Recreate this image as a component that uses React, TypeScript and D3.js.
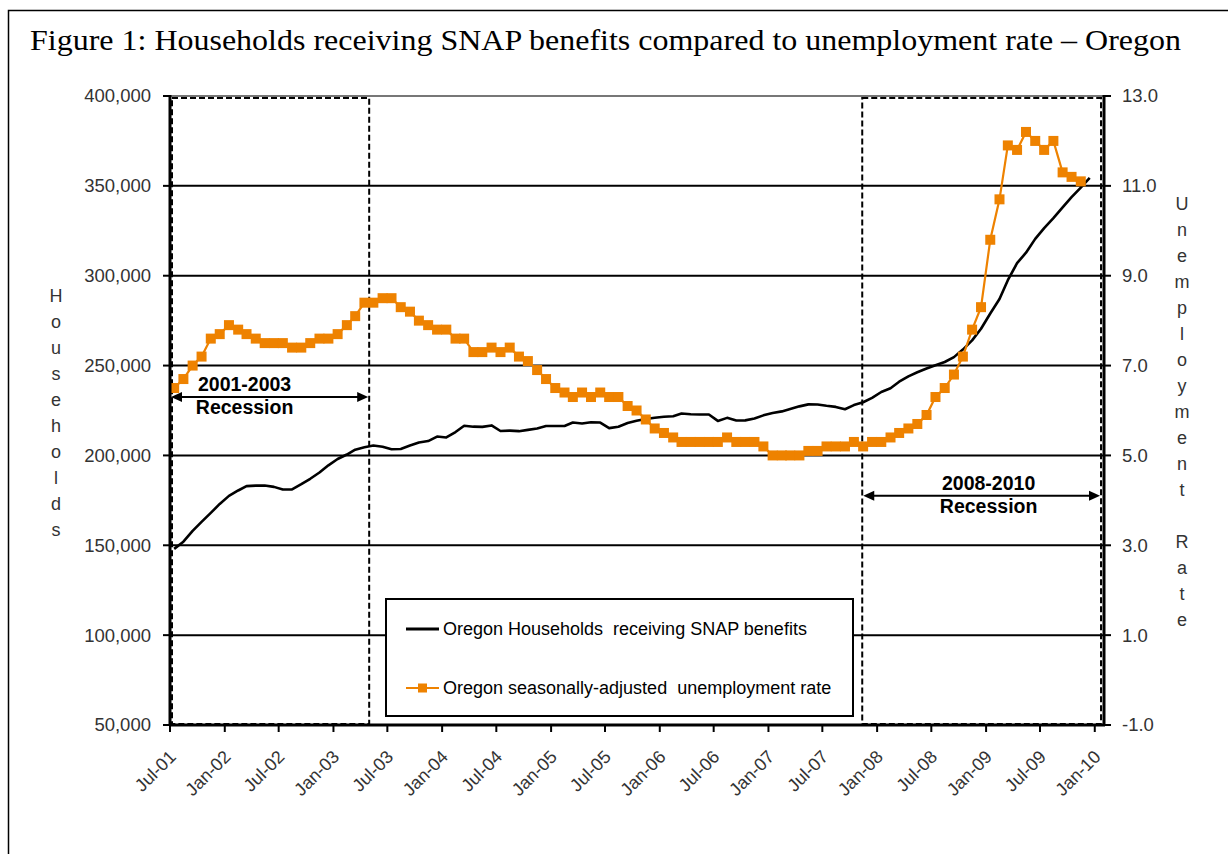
import React from 'react';
import * as d3 from 'd3';

// ---------- DATA ----------
const firstYear = 2001;
const firstMonth = 6; // July (0-based)

// Oregon households receiving SNAP benefits, monthly from Jul-01
const snapHouseholds = [
  148000, 152000, 158000, 163000, 168000, 173000, 177500, 180500, 182900, 183200,
  183300, 182500, 181000, 181100, 184000, 187000, 190500, 194500, 198000, 200500,
  203200, 204500, 205500, 204800, 203400, 203600, 205500, 207200, 208000, 210500,
  210000, 213000, 216500, 216000, 215900, 216700, 213600, 213800, 213500, 214200,
  215000, 216400, 216400, 216400, 218300, 217800, 218500, 218300, 215200, 216000,
  218000, 219300, 220300, 221000, 221500, 221800, 223300, 222900, 222800, 222800,
  219200, 220900, 219400, 219500, 220500, 222300, 223600, 224500, 225800, 227300,
  228400, 228300, 227600, 227000, 225700, 228000, 229600, 232000, 235300, 237400,
  241000, 244000, 246300, 248400, 250200, 252000, 254700, 258900, 264000, 270500,
  279000, 287000, 297500, 307000, 312800, 320500, 326500, 332000, 338000, 343700,
  349000, 354500,
];

// Oregon seasonally-adjusted unemployment rate, monthly from Jul-01
const unemploymentRate = [
  6.5, 6.7, 7.0, 7.2, 7.6, 7.7, 7.9, 7.8, 7.7, 7.6,
  7.5, 7.5, 7.5, 7.4, 7.4, 7.5, 7.6, 7.6, 7.7, 7.9,
  8.1, 8.4, 8.4, 8.5, 8.5, 8.3, 8.2, 8.0, 7.9, 7.8,
  7.8, 7.6, 7.6, 7.3, 7.3, 7.4, 7.3, 7.4, 7.2, 7.1,
  6.9, 6.7, 6.5, 6.4, 6.3, 6.4, 6.3, 6.4, 6.3, 6.3,
  6.1, 6.0, 5.8, 5.6, 5.5, 5.4, 5.3, 5.3, 5.3, 5.3,
  5.3, 5.4, 5.3, 5.3, 5.3, 5.2, 5.0, 5.0, 5.0, 5.0,
  5.1, 5.1, 5.2, 5.2, 5.2, 5.3, 5.2, 5.3, 5.3, 5.4,
  5.5, 5.6, 5.7, 5.9, 6.3, 6.5, 6.8, 7.2, 7.8, 8.3,
  9.8, 10.7, 11.9, 11.8, 12.2, 12.0, 11.8, 12.0, 11.3, 11.2,
  11.1,
];

const xTickLabels = [
  'Jul-01', 'Jan-02', 'Jul-02', 'Jan-03', 'Jul-03', 'Jan-04', 'Jul-04', 'Jan-05', 'Jul-05',
  'Jan-06', 'Jul-06', 'Jan-07', 'Jul-07', 'Jan-08', 'Jul-08', 'Jan-09', 'Jul-09', 'Jan-10',
];
const leftTicks = [50000, 100000, 150000, 200000, 250000, 300000, 350000, 400000];
const rightTicks = [-1, 1, 3, 5, 7, 9, 11, 13];

const recessionStarts = ['2001-07-01', '2007-11-12'];
const recessionEnds = ['2003-05-01', '2010-01-22'];
const recessionYears = ['2001-2003', '2008-2010'];
const recessionLabelLevel = [6.3, 4.1]; // unemployment-axis level of annotation arrow

const titleText = 'Figure 1: Households receiving SNAP benefits compared to unemployment rate \u2013 Oregon';
const leftTitle = 'Households';
const rightTitle = 'Unemployment Rate';
const legendLabels = [
  'Oregon Households  receiving SNAP benefits',
  'Oregon seasonally-adjusted  unemployment rate',
];

// ---------- LAYOUT ----------
const W = 1228;
const H = 854;
const PL = 170, PR = 1104, PT = 96, PB = 725;
const ORANGE = '#EE8200';
const AXIS_TEXT = '#333';
const FONT = 'Arial, "Liberation Sans", sans-serif';

function parseDate(s: string) {
  const [y, m, d] = s.split('-').map(Number);
  return new Date(y, m - 1, d);
}

export default function App() {
  const x = d3.scaleTime()
    .domain([new Date(2001, 6, 1), new Date(2010, 1, 1)])
    .range([PL, PR]);
  const yL = d3.scaleLinear().domain([50000, 400000]).range([PB, PT]);
  const yR = d3.scaleLinear().domain([-1, 13]).range([PB, PT]);

  const pointDate = (i: number) => new Date(firstYear, firstMonth + i, 15);
  const tickDates = xTickLabels.map((_, k) => new Date(firstYear, firstMonth + 6 * k, 1));

  const snapLine = d3.line<number>()
    .x((_, i) => x(pointDate(i)))
    .y((v) => yL(v))(snapHouseholds) as string;
  const rateLine = d3.line<number>()
    .x((_, i) => x(pointDate(i)))
    .y((v) => yR(v))(unemploymentRate) as string;

  const arrowHead = (tipX: number, y: number, dir: number) =>
    `M${tipX},${y} L${tipX + dir * 11},${y - 5} L${tipX + dir * 11},${y + 5} Z`;

  const leftLetters = leftTitle.split('');
  const rightLetters = rightTitle.split('');

  return (
    <svg width={W} height={H} style={{ position: 'absolute', left: 0, top: 0, background: '#fff' }}
      fontFamily={FONT}>
      <rect x={0} y={0} width={W} height={H} fill="#fff" />
      {/* outer frame */}
      <rect x={8.5} y={10.5} width={1225} height={900} fill="none" stroke="#000" strokeWidth={1.5} />

      {/* title */}
      <text x={30} y={49.5} fontFamily='"Times New Roman", "Liberation Serif", serif' fontSize={29.5}
        fill="#000" textLength={1151} lengthAdjust="spacingAndGlyphs">
        {titleText}
      </text>

      {/* gridlines */}
      {leftTicks.filter((t) => t !== 50000 && t !== 400000).map((t) => (
        <line key={'g' + t} x1={PL} x2={PR} y1={yL(t)} y2={yL(t)} stroke="#000" strokeWidth={2} />
      ))}
      {/* top border */}
      <line x1={PL} x2={PR} y1={PT} y2={PT} stroke="#777" strokeWidth={2} />

      {/* recession boxes */}
      {recessionStarts.map((s, i) => {
        const x0 = Math.max(x(parseDate(s)), PL + 2);
        const x1 = x(parseDate(recessionEnds[i]));
        return (
          <rect key={'rb' + i} x={x0} y={PT + 2} width={x1 - x0} height={PB - PT - 3}
            fill="none" stroke="#000" strokeWidth={2} strokeDasharray="6,3" />
        );
      })}

      {/* annotations */}
      {recessionStarts.map((s, i) => {
        const x0 = x(parseDate(s));
        const x1 = x(parseDate(recessionEnds[i]));
        const ay = yR(recessionLabelLevel[i]);
        const cx = i === 0 ? (x0 + x1) / 2 - 25 : (x0 + x1) / 2 + 7;
        return (
          <g key={'an' + i}>
            <line x1={x0 + 8} x2={x1 - 8} y1={ay} y2={ay} stroke="#000" strokeWidth={2} />
            <path d={arrowHead(x0 + 1, ay, 1)} fill="#000" />
            <path d={arrowHead(x1 - 1, ay, -1)} fill="#000" />
            <text x={cx} y={ay - 6} textAnchor="middle" fontSize={19.5} fontWeight="bold" fill="#000">
              {recessionYears[i]}
            </text>
            <text x={cx} y={ay + 17} textAnchor="middle" fontSize={19.5} fontWeight="bold" fill="#000">
              Recession
            </text>
          </g>
        );
      })}

      {/* SNAP line */}
      <path d={snapLine} fill="none" stroke="#000" strokeWidth={2.6} strokeLinejoin="round" />
      {/* unemployment line */}
      <path d={rateLine} fill="none" stroke={ORANGE} strokeWidth={2.2} />
      {unemploymentRate.map((v, i) => (
        <rect key={'m' + i} x={x(pointDate(i)) - 5} y={yR(v) - 5} width={10} height={10} fill={ORANGE} />
      ))}

      {/* axes */}
      <line x1={PL} x2={PL} y1={PT - 1} y2={PB + 1} stroke="#000" strokeWidth={3} />
      <line x1={PR} x2={PR} y1={PT - 1} y2={PB + 1} stroke="#000" strokeWidth={3} />
      <line x1={PL - 1} x2={PR + 1} y1={PB} y2={PB} stroke="#000" strokeWidth={3} />

      {leftTicks.map((t) => (
        <g key={'lt' + t}>
          <line x1={PL - 7} x2={PL} y1={yL(t)} y2={yL(t)} stroke="#000" strokeWidth={2} />
          <text x={151} y={yL(t)} dy="0.35em" textAnchor="end" fontSize={18.5} fill={AXIS_TEXT}>
            {d3.format(',')(t)}
          </text>
        </g>
      ))}
      {rightTicks.map((t) => (
        <g key={'rt' + t}>
          <line x1={PR} x2={PR + 7} y1={yR(t)} y2={yR(t)} stroke="#000" strokeWidth={2} />
          <text x={1122} y={yR(t)} dy="0.35em" textAnchor="start" fontSize={18.5} fill={AXIS_TEXT}>
            {d3.format('.1f')(t).replace('\u2212', '-')}
          </text>
        </g>
      ))}
      {tickDates.map((d, k) => (
        <g key={'xt' + k}>
          <line x1={x(d)} x2={x(d)} y1={PB} y2={PB + 7} stroke="#000" strokeWidth={2} />
          <text transform={`translate(${x(d) + 7},${PB + 33}) rotate(-45)`} textAnchor="end"
            fontSize={18} fill={AXIS_TEXT}>
            {xTickLabels[k]}
          </text>
        </g>
      ))}

      {/* vertical axis titles */}
      {leftLetters.map((c, i) => (
        <text key={'ll' + i} x={56} y={296 + i * 26} dy="0.35em" textAnchor="middle" fontSize={18} fill={AXIS_TEXT}>
          {c}
        </text>
      ))}
      {rightLetters.map((c, i) => (
        <text key={'rl' + i} x={1182} y={204 + i * 26} dy="0.35em" textAnchor="middle" fontSize={18} fill={AXIS_TEXT}>
          {c}
        </text>
      ))}

      {/* legend */}
      <rect x={386} y={599} width={467} height={117} fill="#fff" stroke="#000" strokeWidth={2} />
      <line x1={406} x2={439} y1={629} y2={629} stroke="#000" strokeWidth={3} />
      <line x1={406} x2={439} y1={688} y2={688} stroke={ORANGE} strokeWidth={2.2} />
      <rect x={418} y={683.5} width={9} height={9} fill={ORANGE} />
      <text x={443} y={629} dy="0.35em" fontSize={18} fill="#000" style={{ whiteSpace: 'pre' }}>{legendLabels[0]}</text>
      <text x={443} y={688} dy="0.35em" fontSize={18} fill="#000" style={{ whiteSpace: 'pre' }}>{legendLabels[1]}</text>
    </svg>
  );
}
